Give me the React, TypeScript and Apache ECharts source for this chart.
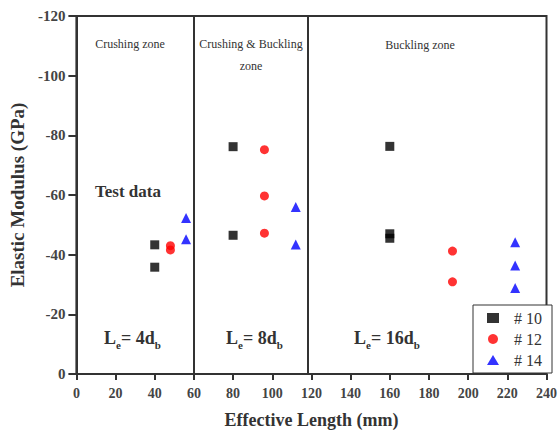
import React, { useEffect, useRef } from "react";
import * as echarts from "echarts";

const xTicks = [0, 20, 40, 60, 80, 100, 120, 140, 160, 180, 200, 220, 240];
const yTicks = [-120, -100, -80, -60, -40, -20, 0];
const zoneBoundaries = [60, 118];

const seriesNames = ["# 10", "# 12", "# 14"];
const s10: [number, number][] = [
  [40, -43.3], [40, -35.8],
  [80, -76.2], [80, -46.5],
  [160, -76.3], [160, -47], [160, -45.5],
];
const s12: [number, number][] = [
  [48, -43], [48, -41.6],
  [96, -75.2], [96, -59.7], [96, -47.2],
  [192, -41.2], [192, -30.9],
];
const s14: [number, number][] = [
  [56, -52.3], [56, -45.2],
  [112, -56], [112, -43.4],
  [224, -44.2], [224, -36.4], [224, -28.8],
];

const serif = "Liberation Serif, Times New Roman, serif";

export default function App() {
  const ref = useRef<HTMLDivElement>(null);
  useEffect(() => {
    const chart = echarts.init(ref.current!, undefined, { renderer: "svg" });
    const subRich = (main: string, sub1: string, mid: string, sub2: string) => ({
      text: `{m|${main}}{s|${sub1}}{m|${mid}}{s|${sub2}}`,
      rich: {
        m: { fontFamily: serif, fontWeight: "bold", fontSize: 18, lineHeight: 24, fill: "#333", verticalAlign: "middle" },
        s: { fontFamily: serif, fontWeight: "bold", fontSize: 11, lineHeight: 10, fill: "#333", verticalAlign: "bottom" },
      },
    });
    chart.setOption({
      animation: false,
      backgroundColor: "#fff",
      grid: { left: 76, right: 12, top: 16, bottom: 59, show: true, borderColor: "#333", borderWidth: 2, backgroundColor: "transparent" },
      xAxis: {
        type: "value",
        min: xTicks[0],
        max: xTicks[xTicks.length - 1],
        interval: 20,
        name: "Effective Length (mm)",
        nameLocation: "middle",
        nameGap: 37,
        nameTextStyle: { fontFamily: serif, fontWeight: "bold", fontSize: 18, color: "#333" },
        axisLine: { show: true, lineStyle: { color: "#333", width: 2 } },
        axisTick: { show: true, length: 6, lineStyle: { color: "#333", width: 2 } },
        axisLabel: { fontFamily: serif, fontWeight: "bold", fontSize: 14, color: "#444", margin: 12 },
        splitLine: { show: false },
      },
      yAxis: {
        type: "value",
        inverse: true,
        min: yTicks[0],
        max: yTicks[yTicks.length - 1],
        interval: 20,
        name: "Elastic Modulus (GPa)",
        nameLocation: "middle",
        nameGap: 49,
        nameTextStyle: { fontFamily: serif, fontWeight: "bold", fontSize: 19, color: "#333" },
        axisLine: { show: true, lineStyle: { color: "#333", width: 2 } },
        axisTick: { show: true, length: 8, lineStyle: { color: "#333", width: 2 } },
        axisLabel: { fontFamily: serif, fontWeight: "bold", fontSize: 15, color: "#444", margin: 11 },
        splitLine: { show: false },
      },
      legend: {
        data: seriesNames,
        orient: "vertical",
        right: 8,
        bottom: 61,
        itemWidth: 12,
        itemHeight: 10,
        itemGap: 5,
        padding: [5, 10, 5, 14],
        borderColor: "#333",
        borderWidth: 1,
        backgroundColor: "#fff",
        textStyle: { fontFamily: serif, fontSize: 16, color: "#333", padding: [0, 0, 0, 10] },
      },
      series: [
        {
          name: seriesNames[0],
          type: "scatter",
          symbol: "rect",
          symbolSize: 9,
          itemStyle: { color: "#000" },
          data: s10,
          markLine: {
            silent: true,
            symbol: ["none", "none"],
            label: { show: false },
            lineStyle: { color: "#333", width: 2, type: "solid" },
            data: zoneBoundaries.map((v) => ({ xAxis: v })),
          },
          z: 3,
        },
        {
          name: seriesNames[1],
          type: "scatter",
          symbol: "circle",
          symbolSize: 9,
          itemStyle: { color: "#ff0000" },
          data: s12,
          z: 3,
        },
        {
          name: seriesNames[2],
          type: "scatter",
          symbol: "triangle",
          symbolSize: 10,
          itemStyle: { color: "#0000ff" },
          data: s14,
          z: 3,
        },
      ],
      graphic: [
        { type: "text", x: 130, y: 44, style: { text: "Crushing zone", font: `12px ${serif}`, fill: "#333", align: "center", verticalAlign: "middle" } },
        { type: "text", x: 251, y: 44, style: { text: "Crushing & Buckling", font: `12px ${serif}`, fill: "#333", align: "center", verticalAlign: "middle" } },
        { type: "text", x: 251, y: 66, style: { text: "zone", font: `12px ${serif}`, fill: "#333", align: "center", verticalAlign: "middle" } },
        { type: "text", x: 420, y: 45, style: { text: "Buckling zone", font: `12px ${serif}`, fill: "#333", align: "center", verticalAlign: "middle" } },
        { type: "text", x: 128, y: 191, style: { text: "Test data", font: `bold 17px ${serif}`, fill: "#333", align: "center", verticalAlign: "middle" } },
        { type: "text", x: 104, y: 338, style: { ...subRich("L", "e", "= 4d", "b"), align: "left", verticalAlign: "middle" } },
        { type: "text", x: 226, y: 338, style: { ...subRich("L", "e", "= 8d", "b"), align: "left", verticalAlign: "middle" } },
        { type: "text", x: 354, y: 338, style: { ...subRich("L", "e", "= 16d", "b"), align: "left", verticalAlign: "middle" } },
      ],
    });
    return () => chart.dispose();
  }, []);
  return <div ref={ref} style={{ position: "absolute", left: 0, top: 0, width: 560, height: 434 }} />;
}
